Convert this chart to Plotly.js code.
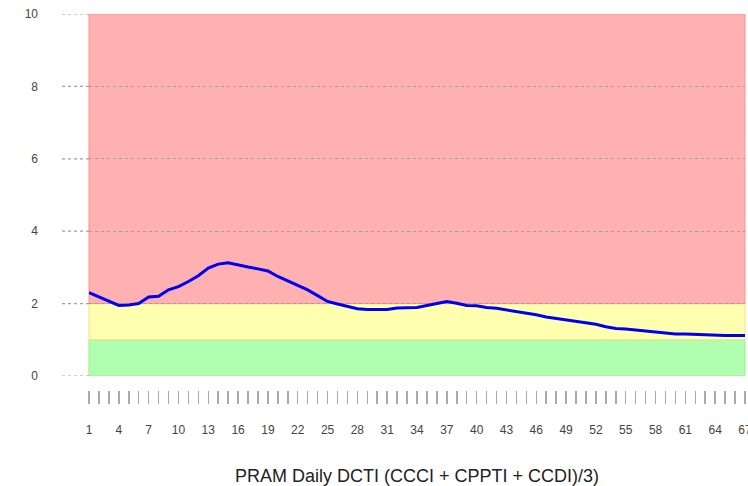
<!DOCTYPE html>
<html>
<head>
<meta charset="utf-8">
<script src="https://cdn.plot.ly/plotly-3.0.1.min.js"></script>
<style>
  html, body { margin: 0; padding: 0; background: #fff; }
  #plot { width: 748px; height: 486px; }
</style>
</head>
<body>
<div id="plot"></div>
<script>
// data
const days = [];
for (let d = 1; d <= 67; d++) days.push(d);

const dcti = [
  2.30, 2.19, 2.06, 1.95, 1.96, 2.00, 2.18, 2.20, 2.38, 2.47,
  2.61, 2.77, 2.98, 3.09, 3.13, 3.06, 3.01, 2.96, 2.90, 2.75,
  2.63, 2.49, 2.38, 2.22, 2.06, 1.99, 1.92, 1.86, 1.84, 1.84,
  1.84, 1.88, 1.89, 1.89, 1.95, 2.01, 2.06, 2.01, 1.95, 1.94,
  1.89, 1.87, 1.83, 1.78, 1.74, 1.69, 1.63, 1.59, 1.57, 1.53,
  1.47, 1.43, 1.36, 1.31, 1.30, 1.27, 1.25, 1.22, 1.20, 1.16,
  1.16, 1.15, 1.12, 1.12, 1.12, 1.12, 1.12
];

// risk bands (low, high)
const bandLow = [0, 1, 2];
const bandHigh = [1, 2, 10];
const bandFill = ["#b0ffb0", "#ffffb0", "#ffb0b0"];
const bandEdge = ["#9cee7c", "#ffd98a", "#ff9090"];

const yTicks = [0, 2, 4, 6, 8, 10];
const xLabels = [];
for (let d = 1; d <= 67; d += 3) xLabels.push(d);

const shapes = [];
bandLow.forEach((lo, i) => {
  shapes.push({
    type: "rect", layer: "below",
    xref: "paper", x0: 0, x1: 1,
    yref: "y", y0: lo, y1: bandHigh[i],
    fillcolor: bandFill[i],
    line: { color: bandEdge[i], width: 1 }
  });
});
// dashed stubs left of the plot area
yTicks.forEach((v) => {
  shapes.push({
    type: "line", layer: "above",
    xref: "paper", x0: -27 / 656, x1: 0,
    yref: "y", y0: v, y1: v,
    line: { color: "#a0a0a0", width: 1.2, dash: "3px,3px" }
  });
});

const trace = {
  x: days,
  y: dcti,
  type: "scatter",
  mode: "lines",
  line: { color: "#0000ee", width: 3 },
  hoverinfo: "x+y"
};

const layout = {
  width: 748,
  height: 486,
  margin: { l: 89, r: 3, t: 14, b: 96 },
  paper_bgcolor: "#ffffff",
  plot_bgcolor: "#ffffff",
  showlegend: false,
  font: { family: "Liberation Sans, Arial, sans-serif", size: 12, color: "#444" },
  xaxis: {
    range: [1, 67],
    anchor: "free",
    position: 0,
    tickmode: "array",
    tickvals: xLabels,
    ticks: "outside",
    ticklen: 13,
    tickwidth: 1.5,
    tickcolor: "#aaaaaa",
    minor: { dtick: 1, tick0: 1, ticks: "outside", ticklen: 13, tickwidth: 1.5, tickcolor: "#aaaaaa", showgrid: false },
    ticklabelstandoff: 16,
    ticklabeloverflow: "allow",
    showgrid: false,
    zeroline: false,
    showline: false,
    tickfont: { size: 12, color: "#444" },
    title: {
      text: "PRAM Daily DCTI (CCCI + CPPTI + CCDI)/3)",
      font: { size: 18, color: "#222" },
      standoff: 32
    }
  },
  yaxis: {
    domain: [14 / 376, 1],
    range: [0, 10],
    tickvals: yTicks,
    ticks: "",
    showgrid: true,
    gridcolor: "#a0a0a0",
    gridwidth: 1.2,
    griddash: "3px,3px",
    zeroline: false,
    showline: false,
    ticklabelstandoff: 50,
    tickfont: { size: 12, color: "#444" }
  },
  shapes: shapes
};

Plotly.newPlot("plot", [trace], layout, { displayModeBar: false, staticPlot: true });
</script>
</body>
</html>
